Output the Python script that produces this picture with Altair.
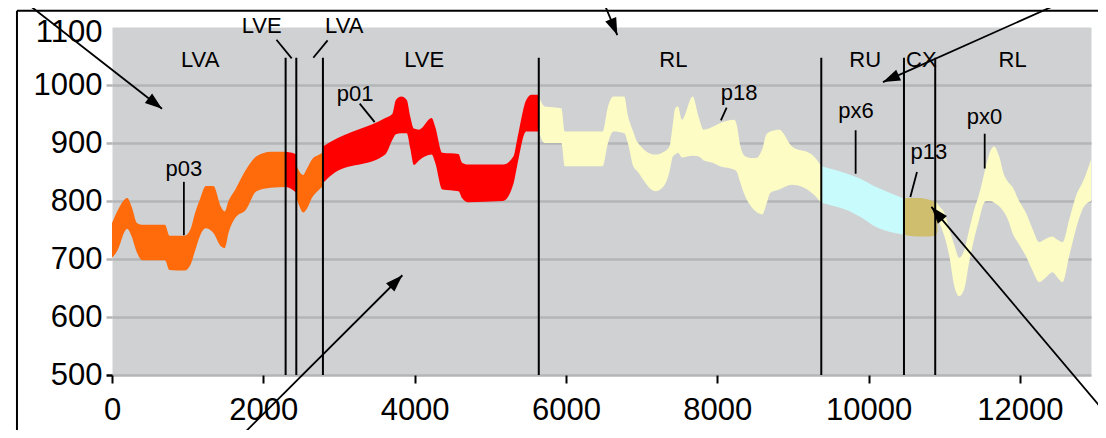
import math
import altair as alt
import pandas as pd

X_MAX = 12940
Y_MIN, Y_MAX = 500, 1100
W, H = 979, 348
FONT = "Liberation Sans"

# ---------------- band segments ----------------
seg_names = ["LVA_a", "LVE_a", "LVA_b", "LVE_b", "RL_a", "RU", "CX", "RL_b"]
seg_colors = ["#ff6a0a", "#ff0000", "#ff6a0a", "#ff0000", "#fcfcc4", "#c8fcfc", "#cfbe6e", "#fcfcc4"]

lva_a_x = [0, 80, 170, 200, 260, 330, 400, 700, 760, 960, 1040, 1100, 1160, 1240, 1340, 1440, 1490, 1540, 1630, 1770, 1910, 2100, 2295]
lva_a_hi = [762, 785, 803, 805, 790, 762, 759, 759, 740, 740, 752, 780, 802, 826, 826, 790, 782, 800, 820, 854, 877, 885, 885]
lva_a_lo = [702, 717, 748, 752, 739, 711, 698, 698, 681, 680, 691, 715, 739, 753, 745, 722, 719, 745, 771, 785, 817, 823, 824]

lve_a_x = [2295, 2380, 2436]
lve_a_hi = [885, 883, 880]
lve_a_lo = [824, 820, 814]

lva_b_x = [2436, 2480, 2527, 2574, 2645, 2740, 2788]
lva_b_hi = [862, 850, 845, 855, 872, 880, 884]
lva_b_lo = [806, 790, 780, 786, 806, 820, 826]

lve_b_x = [2788, 2903, 3612, 3705, 3752, 3824, 3896, 3943, 3990, 4058, 4225, 4272, 4367, 4580, 4627, 4700, 5170, 5307, 5354, 5475, 5546, 5641]
lve_b_hi = [894, 903, 943, 950, 974, 980, 974, 945, 925, 923, 943, 928, 883, 881, 866, 863, 863, 877, 905, 974, 983, 983]
lve_b_lo = [831, 845, 880, 905, 915, 917, 917, 890, 862, 870, 880, 866, 820, 817, 805, 798, 800, 830, 860, 920, 920, 920]

rl_a_x = [5641, 5720, 5940, 5985, 6485, 6556, 6628, 6771, 6818, 6890, 6938, 7180, 7296, 7368, 7415, 7445, 7480, 7533, 7676, 7748, 7820, 7940, 8034, 8226, 8260, 8297, 8369, 8450, 8511, 8596, 8650, 8701, 8820, 8988, 9251, 9375]
rl_a_hi = [980, 963, 960, 920, 920, 963, 980, 980, 948, 920, 903, 880, 885, 894, 935, 960, 963, 940, 980, 948, 923, 928, 934, 940, 930, 900, 877, 874, 874, 890, 915, 920, 923, 894, 880, 860]
rl_a_lo = [920, 900, 900, 860, 860, 900, 920, 917, 900, 860, 852, 817, 826, 850, 877, 880, 883, 875, 878, 877, 870, 866, 860, 854, 850, 835, 808, 790, 782, 777, 795, 814, 820, 828, 814, 797]

ru_x = [9375, 9550, 9700, 9900, 10100, 10300, 10468]
ru_hi = [860, 854, 848, 838, 824, 813, 804]
ru_lo = [797, 791, 785, 772, 755, 746, 742]

cx_x = [10468, 10650, 10800, 10881, 10910]
cx_hi = [805, 805, 802, 797, 790]
cx_lo = [742, 739, 739, 740, 748]

rl_b_x = [10881, 10934, 11000, 11067, 11132, 11198, 11264, 11330, 11396, 11462, 11506, 11550, 11616, 11660, 11726, 11792, 11850, 11898, 11990, 12079, 12167, 12255, 12343, 12431, 12497, 12563, 12652, 12740, 12846, 12940]
rl_b_hi = [800, 791, 780, 751, 725, 702, 715, 751, 785, 812, 835, 860, 888, 894, 877, 845, 832, 825, 800, 780, 752, 729, 735, 739, 733, 729, 768, 808, 837, 871]
rl_b_lo = [770, 762, 740, 705, 654, 636, 648, 695, 735, 768, 790, 800, 800, 797, 791, 780, 765, 746, 725, 705, 680, 660, 668, 677, 668, 660, 705, 751, 790, 800]

seg_x = [lva_a_x, lve_a_x, lva_b_x, lve_b_x, rl_a_x, ru_x, cx_x, rl_b_x]
seg_hi = [lva_a_hi, lve_a_hi, lva_b_hi, lve_b_hi, rl_a_hi, ru_hi, cx_hi, rl_b_hi]
seg_lo = [lva_a_lo, lve_a_lo, lva_b_lo, lve_b_lo, rl_a_lo, ru_lo, cx_lo, rl_b_lo]

# ---------------- boundaries & labels ----------------
bound_x = [2295, 2436, 2788, 5641, 9375, 10468, 10881]
bound_top = 1047

zone_labels = ["LVA", "LVE", "LVA", "LVE", "RL", "RU", "CX", "RL"]
zone_x = [1165, 1978, 3069, 4126, 7420, 9955, 10697, 11904]
zone_y = [1043, 1101, 1101, 1043, 1043, 1043, 1043, 1043]

pt_labels = ["p03", "p01", "p18", "px6", "p13", "px0"]
pt_x = [951, 3213, 8290, 9835, 10797, 11532]
pt_y = [855, 985, 987, 955, 884, 945]

# leader lines: x, y -> x2, y2
lead_x = [2174, 2850, 950, 3274, 8124, 9829, 10640, 11535]
lead_y = [1078, 1077, 833, 968, 961, 922, 850, 916]
lead_x2 = [2375, 2661, 950, 3472, 8048, 9829, 10552, 11535]
lead_y2 = [1046, 1047, 741, 936, 939, 847, 807, 856]

# arrows: start -> tip
arr_x = [-1176, 6488, 12614, 13134, 1679]
arr_y = [1146, 1146, 1146, 434, 391]
arr_tx = [661, 6679, 10190, 10830, 3838]
arr_ty = [959, 1086, 1005, 790, 672]

# outer frame
frame_x = [-1256, -1256]
frame_y = [1128, 1128]
frame_x2 = [-1256, 13140]
frame_y2 = [380, 1128]

x_ticks = [0, 2000, 4000, 6000, 8000, 10000, 12000]
y_ticks = [500, 600, 700, 800, 900, 1000, 1100]

# ---------------- data frames ----------------
rows = []
for name, col, xs_, his, los in zip(seg_names, seg_colors, seg_x, seg_hi, seg_lo):
    for a, b, c in zip(xs_, his, los):
        rows.append({"seg": name, "col": col, "x": a, "hi": b, "lo": c})
bands = pd.DataFrame(rows)

bounds = pd.DataFrame({"x": bound_x, "y": [Y_MIN] * len(bound_x), "y2": [bound_top] * len(bound_x)})
zones = pd.DataFrame({"t": zone_labels, "x": zone_x, "y": zone_y})
pts = pd.DataFrame({"t": pt_labels, "x": pt_x, "y": pt_y})
leads = pd.DataFrame({"x": lead_x, "y": lead_y, "x2": lead_x2, "y2": lead_y2})
frame = pd.DataFrame({"x": frame_x, "y": frame_y, "x2": frame_x2, "y2": frame_y2})

kx = W / X_MAX
ky = H / (Y_MAX - Y_MIN)
angles = []
for sx, sy, tx, ty in zip(arr_x, arr_y, arr_tx, arr_ty):
    dx = (tx - sx) * kx
    dy = -(ty - sy) * ky
    angles.append(math.degrees(math.atan2(dx, -dy)) % 360)
arrows = pd.DataFrame({"x": arr_x, "y": arr_y, "x2": arr_tx, "y2": arr_ty, "ang": angles})

# ---------------- encodings ----------------
xs = alt.Scale(domain=[0, X_MAX], nice=False, zero=False)
ys = alt.Scale(domain=[Y_MIN, Y_MAX], nice=False, zero=False)

grid_cond = {"condition": {"test": "datum.value === 1100", "value": "rgba(0,0,0,0)"}, "value": "#b4b5b7"}
tick_cond = {"condition": [{"test": "datum.value === 1100", "value": "rgba(0,0,0,0)"},
                           {"test": "datum.value === 500", "value": "black"}], "value": "#b4b5b7"}
lab_off = {"condition": {"test": "datum.value === 1100", "value": 5}, "value": 0}

x_axis = alt.Axis(values=x_ticks, title=None, grid=False, domain=False, tickColor="black",
                  tickSize=8, tickWidth=2, labelFontSize=31, labelFont=FONT, labelColor="black",
                  labelPadding=12, labelFlush=False, format="d")
y_axis = alt.Axis(values=y_ticks, title=None, grid=True, gridColor=grid_cond, gridWidth=2.5,
                  domain=False, tickSize=6, tickWidth=2.5, tickColor=tick_cond, labelOffset=lab_off,
                  labelFontSize=31, labelFont=FONT, labelColor="black", labelPadding=4, format="d")


def X(f):
    return alt.X(f, type="quantitative", scale=xs, axis=x_axis, title=None)


def Y(f):
    return alt.Y(f, type="quantitative", scale=ys, axis=y_axis, title=None)


area = alt.Chart(bands).mark_area(interpolate="monotone").encode(
    x=X("x"), y=Y("hi"), y2=alt.Y2("lo"),
    color=alt.Color("col:N", scale=None), detail="seg:N"
)

vlines = alt.Chart(bounds).mark_rule(color="black", strokeWidth=2).encode(
    x=X("x"), y=Y("y"), y2=alt.Y2("y2")
)

zone_text = alt.Chart(zones).mark_text(fontSize=22, font=FONT, color="black", baseline="middle", align="center").encode(
    x=X("x"), y=Y("y"), text="t:N"
)

pt_text = alt.Chart(pts).mark_text(fontSize=22, font=FONT, color="black", baseline="middle", align="center").encode(
    x=X("x"), y=Y("y"), text="t:N"
)

lead_lines = alt.Chart(leads).mark_rule(color="black", strokeWidth=1.8).encode(
    x=X("x"), y=Y("y"), x2=alt.X2("x2"), y2=alt.Y2("y2")
)

arrow_lines = alt.Chart(arrows).mark_rule(color="black", strokeWidth=1.8).encode(
    x=X("x"), y=Y("y"), x2=alt.X2("x2"), y2=alt.Y2("y2")
)

arrow_heads = alt.Chart(arrows).mark_point(
    shape="M0,0L-0.5,1.45L0.5,1.45Z", filled=True, color="black", opacity=1, size=560, strokeWidth=0
).encode(
    x=X("x2"), y=Y("y2"), angle=alt.Angle("ang:Q", scale=None)
)

frame_lines = alt.Chart(frame).mark_rule(color="black", strokeWidth=2).encode(
    x=X("x"), y=Y("y"), x2=alt.X2("x2"), y2=alt.Y2("y2")
)

chart = alt.layer(
    area, vlines, lead_lines, zone_text, pt_text, arrow_lines, arrow_heads, frame_lines
).properties(
    width=W, height=H,
    autosize=alt.AutoSizeParams(type="none"),
    padding={"left": 104, "top": 19, "right": 7, "bottom": 55},
    background="white",
).configure_view(
    fill="#d0d1d3", stroke="rgba(0,0,0,0)"
).configure_text(font=FONT)

chart.save("out.html", embed_options={"renderer": "svg", "actions": False})
